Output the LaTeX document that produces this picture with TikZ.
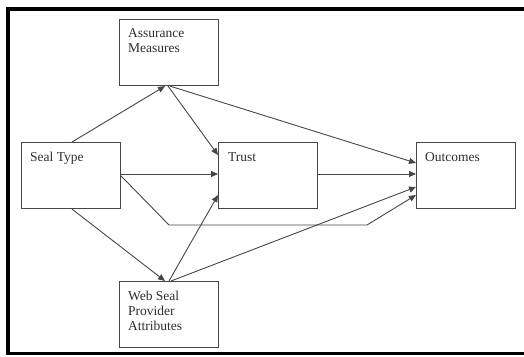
\documentclass[tikz,border=0pt]{standalone}
\usepackage{fontspec}
\setmainfont{Liberation Serif}
\usetikzlibrary{arrows.meta,calc}
\definecolor{ln}{RGB}{70,70,70}
\definecolor{tx}{RGB}{45,45,45}
\begin{document}
\begin{tikzpicture}[x=1pt,y=-1pt,
  box/.style={draw=ln,line width=1.1pt,minimum width=99pt,minimum height=66pt,inner sep=0pt,anchor=north west},
  txt/.style={text=tx,font=\fontsize{13.5}{15}\selectfont,align=left,inner sep=0pt,anchor=north west},
  arr/.style={draw=ln,line width=0.9pt,-{Triangle[length=7pt,width=6pt]}},
  frame/.style={draw=black}]
\useasboundingbox (0,0) rectangle (524,356);
\clip (0,0) rectangle (524,356);
% frame
\draw[frame,line width=4pt] (7.5,355) -- (7.5,9) -- (530,9);
\draw[frame,line width=3pt] (6,353.5) -- (530,353.5);
% boxes
\node[box] (am) at (119,19) {};
\node[box] (st) at (21,142) {};
\node[box] (tr) at (218,142) {};
\node[box] (out) at (416,142) {};
\node[box] (ws) at (119,281) {};
% texts
\node[txt] (amt) at (128,28) {Assurance\\Measures};
\node[txt] (stt) at (30,152) {Seal Type};
\node[txt] (trt) at (228,152) {Trust};
\node[txt] (outt) at (425,152) {Outcomes};
\node[txt] (wst) at (128,291) {Web Seal\\Provider\\Attributes};
% connectors
\draw[arr] ($(st.north west)+(51,0)$) -- ($(am.south west)+(46,0)$);
\draw[arr] ($(am.south west)+(49,0)$) -- ($(tr.north west)+(0,13)$);
\draw[arr] ($(am.south west)+(51,0)$) -- ($(out.north west)+(0,21)$);
\draw[arr] ($(st.north east)+(0,32)$) -- ($(tr.north west)+(0,32)$);
\draw[arr] ($(tr.north east)+(0,32)$) -- ($(out.north west)+(0,32)$);
\coordinate (b1) at (169,225);
\coordinate (b2) at (367,225);
\draw[arr] ($(st.north east)+(0,34)$) -- (b1) -- (b2) -- ($(out.north west)+(0,53)$);
\draw[arr] ($(st.south west)+(51,0)$) -- ($(ws.north west)+(46,0)$);
\draw[arr] ($(ws.north west)+(50,0)$) -- ($(tr.north west)+(0,53)$);
\draw[arr] ($(ws.north west)+(52,0)$) -- ($(out.north west)+(0,45)$);
\end{tikzpicture}
\end{document}
